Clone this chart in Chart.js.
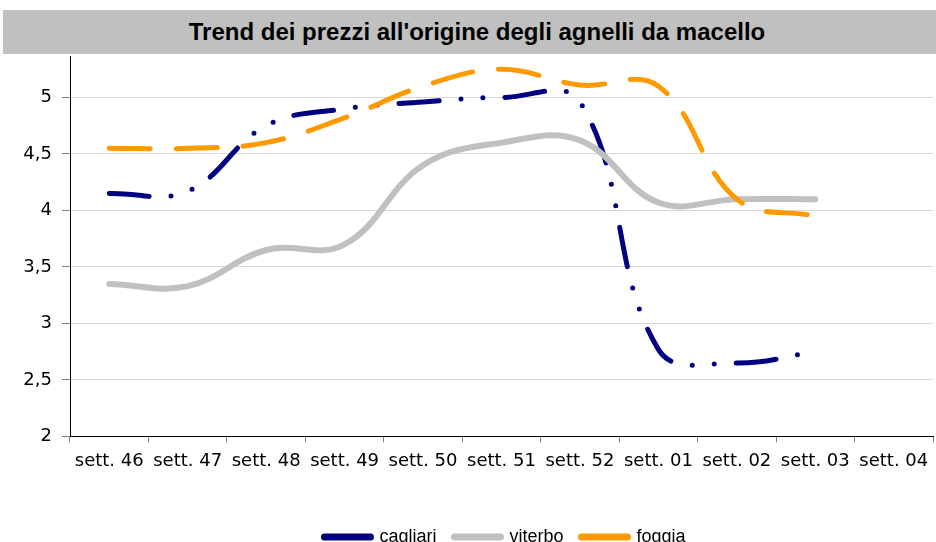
<!DOCTYPE html>
<html>
<head>
<meta charset="utf-8">
<script src="https://cdn.jsdelivr.net/npm/chart.js@4"></script>
<style>
  html, body { margin: 0; padding: 0; width: 936px; height: 542px; overflow: hidden; background: #fff; }
  #title {
    position: absolute; left: 3px; top: 10px; width: 933px; height: 44px; z-index: 2;
    background: #c0c0c0; color: #000;
    font: bold 24px "Liberation Sans", Arial, sans-serif;
    line-height: 44px; text-align: center; text-indent: 15px;
  }
  #wrap { position: absolute; left: 0; top: 36px; width: 1010px; height: 520px; }
</style>
</head>
<body>
<div id="title">Trend dei prezzi all'origine degli agnelli da macello</div>
<div id="wrap"><canvas id="myChart" width="1010" height="520"></canvas></div>
<script>
const categories = ['sett. 46', 'sett. 47', 'sett. 48', 'sett. 49', 'sett. 50', 'sett. 51',
    'sett. 52', 'sett. 01', 'sett. 02', 'sett. 03', 'sett. 04'];

const cagliari = [4.15, 4.17, 4.75, 4.9, 4.96, 5.0, 4.96, 2.77, 2.65, 2.75];
const viterbo = [3.35, 3.33, 3.65, 3.7, 4.4, 4.6, 4.62, 4.07, 4.1, 4.1];
const foggia = [4.55, 4.55, 4.6, 4.82, 5.1, 5.25, 5.11, 5.1, 4.1, 3.95];

const yMin = 2;
const yMax = 5.36;
const yStep = 0.5;

document.addEventListener('DOMContentLoaded', () => {
    const ctx = document.getElementById('myChart').getContext('2d');
    Chart.defaults.font.family = '"DejaVu Sans", Verdana, sans-serif';
    Chart.defaults.color = '#000';

    new Chart(ctx, {
        type: 'line',
        data: {
            labels: categories,
            datasets: [{
                label: 'cagliari',
                data: cagliari,
                borderColor: '#000080',
                borderWidth: 5,
                borderDash: [40, 22, 0, 22, 0, 22],
                borderCapStyle: 'round',
                order: 3
            }, {
                label: 'viterbo',
                data: viterbo,
                borderColor: '#c0c0c0',
                borderWidth: 6,
                borderCapStyle: 'round',
                order: 2
            }, {
                label: 'foggia',
                data: foggia,
                borderColor: '#ff9900',
                borderWidth: 5,
                borderDash: [41, 26],
                borderCapStyle: 'round',
                order: 1
            }]
        },
        options: {
            responsive: false,
            animation: false,
            tension: 0.4,
            pointRadius: 0,
            layout: { padding: { top: 2, right: 0, left: 0, bottom: 0 } },
            plugins: {
                tooltip: { enabled: false },
                legend: {
                    position: 'bottom',
                    labels: {
                        usePointStyle: true,
                        pointStyleWidth: 46,
                        boxHeight: 18,
                        padding: 18,
                        font: { family: '"Liberation Sans", Arial, sans-serif', size: 18 },
                        generateLabels: (chart) => chart.data.datasets.map((ds, i) => ({
                            text: ds.label,
                            fillStyle: ds.borderColor,
                            strokeStyle: ds.borderColor,
                            lineWidth: 7,
                            lineCap: 'round',
                            lineDash: [],
                            pointStyle: 'line',
                            fontColor: '#000',
                            datasetIndex: i
                        }))
                    }
                }
            },
            scales: {
                x: {
                    offset: true,
                    afterFit: (axis) => { axis.height += 30; },
                    grid: { offset: true, drawOnChartArea: false, tickLength: 6, tickColor: '#808080' },
                    border: { color: '#000', width: 1 },
                    ticks: { font: { size: 18 }, padding: 8, maxRotation: 0, autoSkip: false }
                },
                y: {
                    min: yMin,
                    max: yMax,
                    afterBuildTicks: (axis) => {
                        axis.ticks = axis.ticks.filter(t => Math.abs(t.value / yStep - Math.round(t.value / yStep)) < 1e-6);
                    },
                    afterFit: (axis) => { axis.width = 70; },
                    grid: { color: '#d8d8d8', borderDash: [2, 2], tickLength: 8, tickColor: '#808080', tickBorderDash: [] },
                    border: { color: '#000', width: 1 },
                    ticks: {
                        stepSize: yStep,
                        padding: 10,
                        font: { size: 18 },
                        callback: (v) => String(v).replace('.', ',')
                    }
                },
                // empty right-hand space so the plot ends at the same place as the reference
                yRight: {
                    position: 'right',
                    afterFit: (axis) => { axis.width = 77; },
                    grid: { display: false },
                    border: { display: false },
                    ticks: { display: false }
                }
            }
        }
    });
});
</script>
</body>
</html>
